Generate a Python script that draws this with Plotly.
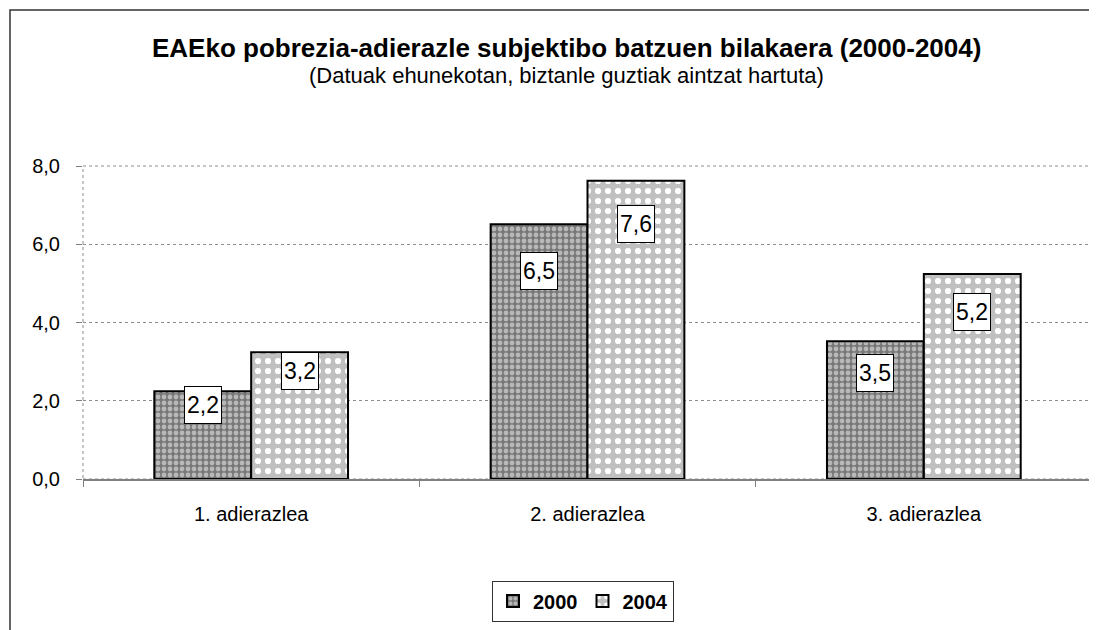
import plotly.graph_objects as go

categories = ["1. adierazlea", "2. adierazlea", "3. adierazlea"]
years = ["2000", "2004"]
values_2000 = [2.24, 6.51, 3.52]
values_2004 = [3.24, 7.62, 5.24]
y_ticks = [0, 2, 4, 6, 8]

# label-box offsets below bar tops (pixels) - layout only
label_offsets = {"2000": [14, 47, 32], "2004": [19, 43, 38]}

title_text = "EAEko pobrezia-adierazle subjektibo batzuen bilakaera (2000-2004)"
subtitle_text = "(Datuak ehunekotan, biztanle guztiak aintzat hartuta)"

FONT = "Liberation Sans, Arial, sans-serif"
W, H = 1097, 630
L, R, T, B = 75, 13, 158, 159
bargap = 0.424
plot_w = W - L - R
plot_h = H - T - B

fig = go.Figure()
fig.add_trace(go.Bar(
    name=years[0], x=categories, y=values_2000,
    marker=dict(color="#8a8a8a", line=dict(color="black", width=2),
                pattern=dict(shape=".", fgcolor="#b8b8b8", bgcolor="#787878",
                             size=6, solidity=0.5, fillmode="replace")),
))
fig.add_trace(go.Bar(
    name=years[1], x=categories, y=values_2004,
    marker=dict(color="#c0c0c0", line=dict(color="black", width=2),
                pattern=dict(shape=".", fgcolor="#ffffff", bgcolor="#c0c0c0",
                             size=10, solidity=0.3, fillmode="replace")),
))

half = (1 - bargap) / 4
annotations = []
for series, vals, sign in [(years[0], values_2000, -1), (years[1], values_2004, 1)]:
    for i, v in enumerate(vals):
        annotations.append(dict(
            x=i + sign * half, y=v, xref="x", yref="y",
            text=f"{v:.1f}".replace(".", ","), showarrow=False,
            yanchor="middle", yshift=-label_offsets[series][i],
            font=dict(family=FONT, size=23, color="black"),
            width=34, height=34, align="center", valign="middle",
            bgcolor="white", bordercolor="black", borderwidth=1, borderpad=1,
        ))

cx = (558 - L) / plot_w
annotations.append(dict(
    text=subtitle_text, x=cx, xref="paper", y=(H - B - 67) / plot_h, yref="paper",
    showarrow=False, xanchor="center", yanchor="middle",
    font=dict(family=FONT, size=22, color="black"),
))
annotations.append(dict(
    text="<b>" + title_text + "</b>", x=cx, xref="paper", y=(H - B - 40) / plot_h, yref="paper",
    showarrow=False, xanchor="center", yanchor="middle",
    font=dict(family=FONT, size=26, color="black"),
))

shapes = [
    dict(type="rect", xref="paper", yref="paper", x0=0, x1=1, y0=0, y1=1,
         line=dict(color="#8c8c8c", width=1, dash="dot"), layer="below"),
    dict(type="rect", xref="paper", yref="paper",
         x0=(2 - L) / plot_w, x1=1.2, y0=-1.0, y1=(H - B - 2) / plot_h,
         line=dict(color="#333333", width=1.5)),
]

fig.update_layout(
    width=W, height=H,
    margin=dict(l=L, r=R, t=T, b=B),
    paper_bgcolor="white", plot_bgcolor="white",
    separators=",.",
    barmode="group", bargap=bargap, bargroupgap=0,
    font=dict(family=FONT, size=20, color="black"),
    xaxis=dict(showgrid=False, showline=True, linecolor="#808080", linewidth=1.5,
               ticks="outside", tickson="boundaries", ticklen=6, tickcolor="#808080",
               ticklabelstandoff=16,
               tickfont=dict(family=FONT, size=20, color="black"), zeroline=False),
    yaxis=dict(range=[0, 8], tickvals=y_ticks, tickformat=".1f",
               showgrid=True, gridcolor="#8c8c8c", griddash="dot", gridwidth=1,
               showline=False, ticks="outside", ticklen=6, tickcolor="#808080",
               ticklabelstandoff=12,
               tickfont=dict(family=FONT, size=20, color="black"), zeroline=False),
    showlegend=True,
    legend=dict(orientation="h", x=(575 - L) / plot_w, xanchor="center",
                y=(H - B - 593) / plot_h, yanchor="middle",
                bordercolor="#333333", borderwidth=1, bgcolor="white",
                font=dict(family=FONT, size=20, color="black", weight="bold"),
                itemwidth=30, tracegroupgap=0),
    annotations=annotations,
    shapes=shapes,
)

fig.write_html("out.html")
